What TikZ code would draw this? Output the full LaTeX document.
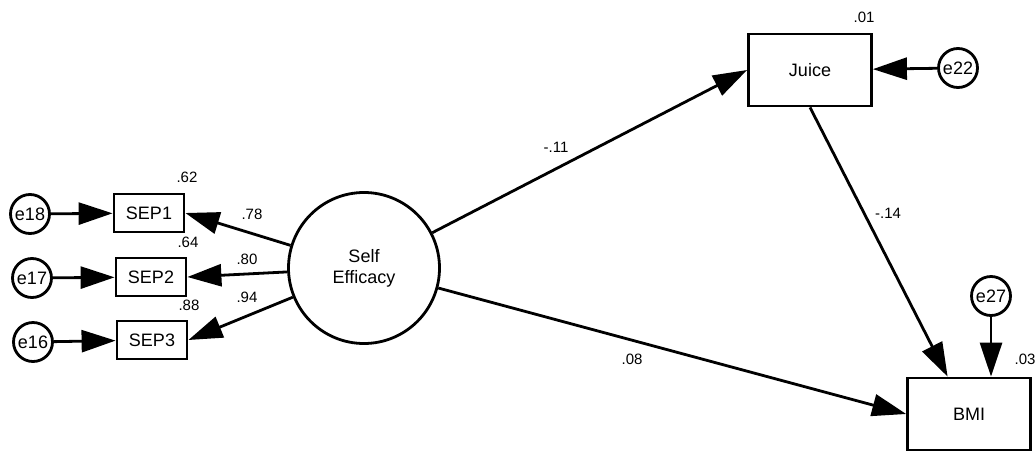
\documentclass[tikz,border=0pt]{standalone}
\usepackage{fontspec}
\setmainfont{Liberation Sans}
\usetikzlibrary{arrows.meta,calc}

\begin{document}
\begin{tikzpicture}[x=1pt,y=-1pt,
  thick line/.style={line width=2.8pt},
  obsbox/.style={draw,thick line,rectangle,inner sep=0pt,fill=white,
    minimum width=#1,font=\fontsize{18}{21}\selectfont},
  smallbox/.style={obsbox=70pt,minimum height=38pt},
  bigbox/.style={obsbox=123pt,minimum height=72pt},
  errc/.style={draw,thick line,circle,inner sep=0pt,minimum size=39pt,
    font=\fontsize{18}{21}\selectfont},
  latent/.style={draw,thick line,circle,inner sep=0pt,minimum size=151pt,
    align=center,font=\fontsize{18}{21}\selectfont},
  path arrow/.style={thick line,-{Triangle[length=34pt,width=22pt]}},
  coef/.style={font=\fontsize{15}{18}\selectfont,inner sep=0pt}]

\useasboundingbox (0,0) rectangle (1036,453);

% observed indicators and their error terms
\node[smallbox] (sep1) at (149,213) {SEP1};
\node[smallbox] (sep2) at (151,277) {SEP2};
\node[smallbox] (sep3) at (152,340) {SEP3};
\node[errc] (e18) at (30,214) {e18};
\node[errc] (e17) at (32,278) {e17};
\node[errc] (e16) at (33,342) {e16};

% latent construct
\node[latent] (se) at (364,268) {Self\\Efficacy};

% outcome variables
\node[bigbox] (juice) at (810,70) {Juice};
\node[bigbox] (bmi) at (969,414) {BMI};
\node[errc] (e22) at (958,68) {e22};
\node[errc] (e27) at (991,296) {e27};

% error paths
\draw[path arrow] (e18) -- (sep1);
\draw[path arrow] (e17) -- (sep2);
\draw[path arrow] (e16) -- (sep3);
\draw[path arrow] (e22) -- (juice);
\draw[path arrow] (e27) -- (e27 |- bmi.north);

% measurement paths
\draw[path arrow] (se) -- (sep1.east);
\draw[path arrow] (se) -- (sep2.east);
\draw[path arrow] (se) -- (sep3.east);

% structural paths
\draw[path arrow] (se) -- (juice.west);
\draw[path arrow] (se) -- (bmi.west);
\draw[path arrow] (juice.south) -- ($(bmi.north west)!0.33!(bmi.north east)$);

% squared multiple correlations
\node[coef] (r1) at (187,177) {.62};
\node[coef] (r2) at (188,242) {.64};
\node[coef] (r3) at (189,305) {.88};
\node[coef] (rj) at (864,17) {.01};
\node[coef] (rb) at (1025,359) {.03};

% standardized estimates
\node[coef] (l1) at (252,214) {.78};
\node[coef] (l2) at (247,259) {.80};
\node[coef] (l3) at (247,297) {.94};
\node[coef] (b1) at (556,147) {-.11};
\node[coef] (b2) at (888,213) {-.14};
\node[coef] (b3) at (632,359) {.08};

\end{tikzpicture}
\end{document}
